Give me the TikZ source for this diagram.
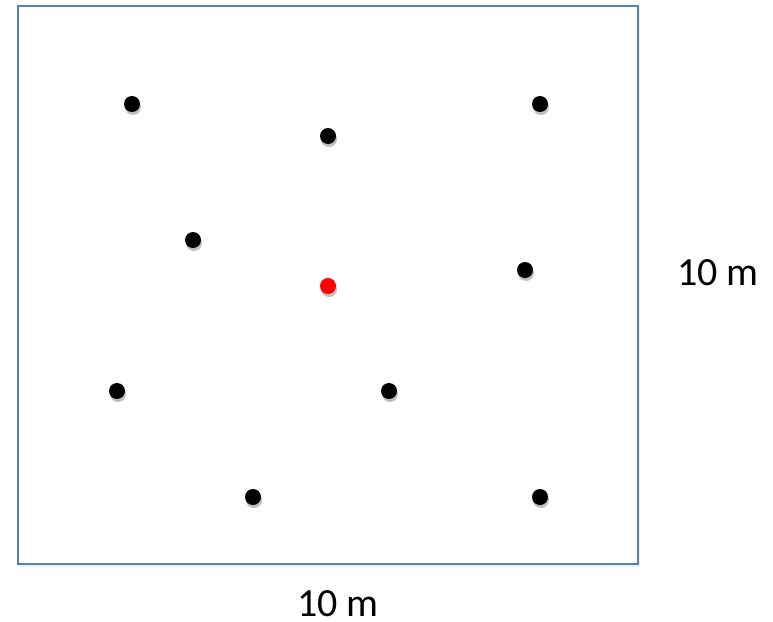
\documentclass[tikz,border=0pt]{standalone}
\usepackage{fontspec}
\setmainfont{Carlito}
\usetikzlibrary{shadows}
\definecolor{boxblue}{RGB}{79,129,189}
\tikzset{
  pt/.style={circle, fill=black, inner sep=0pt, minimum size=16pt,
    drop shadow={shadow xshift=1pt, shadow yshift=-3pt, opacity=0.25, fill=black}},
  redpt/.style={pt, fill=red},
  lbl/.style={font=\fontsize{40}{48}\selectfont, inner sep=0pt}
}
\begin{document}
\begin{tikzpicture}[x=1pt, y=-1pt]
  \useasboundingbox (0,0) rectangle (773,621);
  \draw[boxblue, line width=1.5pt, drop shadow={shadow xshift=2pt, shadow yshift=-3pt, opacity=0.12}, fill=white]
    (18,6) rectangle (638,564);
  \foreach \n/\x/\y in {a/132/104, b/540/104, c/328/136, d/193/240, e/525/270,
                        f/117/391, g/389/391, h/253/497, i/540/497} {
    \node[pt] (\n) at (\x,\y) {};
  }
  \node[redpt] (ctr) at (328,286) {};
  \node[lbl] (wd) at (338,604) {10 m};
  \node[lbl] (ht) at (718,273) {10 m};
\end{tikzpicture}
\end{document}
